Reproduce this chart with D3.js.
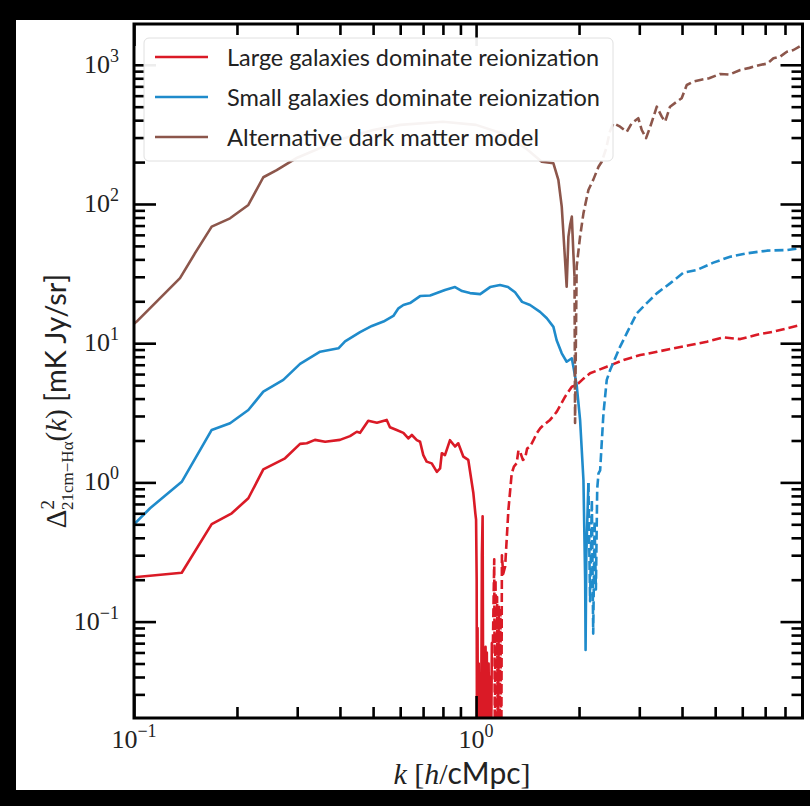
<!DOCTYPE html>
<html>
<head>
<meta charset="utf-8">
<script src="https://cdn.jsdelivr.net/npm/d3@7"></script>
<style>
  html, body { margin: 0; padding: 0; background: #000; }
  svg { display: block; }
</style>
</head>
<body>
<svg id="chart"></svg>
<script>
// datos: [k, valor]
const rojoSolido = [
  [0.1, 0.208], [0.1379, 0.2245], [0.1687, 0.502], [0.1931, 0.600], [0.2159, 0.769],
  [0.2388, 1.24], [0.2764, 1.49], [0.3058, 1.89], [0.320, 1.91], [0.338, 2.02],
  [0.362, 1.96], [0.400, 2.02], [0.428, 2.15], [0.448, 2.31], [0.458, 2.27],
  [0.484, 2.77], [0.513, 2.68], [0.548, 2.81], [0.560, 2.49], [0.586, 2.38],
  [0.613, 2.27], [0.634, 2.07], [0.649, 2.19], [0.671, 2.01], [0.686, 1.96],
  [0.701, 1.57], [0.717, 1.41], [0.742, 1.37], [0.768, 1.19], [0.785, 1.26],
  [0.794, 1.62], [0.811, 1.57], [0.839, 2.01], [0.868, 1.81], [0.887, 1.91],
  [0.918, 1.53], [0.949, 1.45], [0.982, 0.835], [0.995, 0.6], [1.0, 0.54],
  [1.004, 0.2], [1.006, 0.01], [1.010, 0.09], [1.013, 0.008], [1.018, 0.05],
  [1.022, 0.01], [1.028, 0.04], [1.033, 0.006], [1.04, 0.3], [1.045, 0.57],
  [1.05, 0.01], [1.055, 0.03], [1.06, 0.005], [1.066, 0.066], [1.07, 0.01],
  [1.075, 0.06], [1.08, 0.005], [1.088, 0.05], [1.095, 0.008], [1.10, 0.04],
  [1.105, 0.006], [1.112, 0.07], [1.12, 0.07]
];
const rojoGuion = [
  [1.12, 0.07], [1.13, 0.28], [1.135, 0.01], [1.14, 0.2], [1.145, 0.008],
  [1.152, 0.15], [1.158, 0.01], [1.165, 0.13], [1.17, 0.006], [1.178, 0.12],
  [1.185, 0.01], [1.19, 0.3], [1.2, 0.22], [1.216, 0.248], [1.243, 0.634],
  [1.271, 1.16], [1.29, 1.3], [1.314, 1.37], [1.33, 1.7], [1.345, 1.66], [1.37, 1.45],
  [1.391, 1.49], [1.41, 1.75], [1.438, 1.81], [1.47, 2.0], [1.505, 2.26], [1.54, 2.45],
  [1.574, 2.58], [1.645, 2.81], [1.722, 3.22], [1.821, 4.13],
  [1.905, 4.87], [1.968, 5.01], [2.05, 5.5], [2.154, 6.08], [2.41, 6.78],
  [2.70, 7.57], [3.02, 8.22], [3.38, 8.68], [3.78, 9.18], [4.23, 9.70],
  [4.73, 10.25], [5.29, 11.0], [5.92, 10.7], [6.62, 11.5], [7.40, 12.1],
  [8.75, 13.4], [9.0, 13.6]
];
const azulSolido = [
  [0.1, 0.5], [0.1114, 0.652], [0.1379, 1.01], [0.1687, 2.38], [0.1909, 2.66],
  [0.2159, 3.31], [0.2388, 4.49], [0.2732, 5.45], [0.3058, 7.10], [0.350, 8.69],
  [0.396, 9.19], [0.414, 10.3], [0.458, 12.0], [0.496, 13.3], [0.536, 14.3],
  [0.573, 15.7], [0.593, 17.8], [0.613, 18.8], [0.641, 19.4], [0.686, 21.8],
  [0.734, 22.0], [0.811, 24.1], [0.868, 25.3], [0.910, 23.7], [0.960, 22.9],
  [1.028, 22.5], [1.099, 25.3], [1.175, 26.2], [1.24, 25.3], [1.30, 23.2],
  [1.363, 19.8], [1.438, 18.8], [1.538, 16.8], [1.61, 15.1], [1.683, 13.1],
  [1.72, 10.5], [1.78, 8.46], [1.84, 7.36], [1.905, 7.79], [1.925, 6.77],
  [1.968, 5.01], [2.014, 2.81], [2.06, 1.04], [2.084, 0.199], [2.09, 0.0625],
  [2.10, 0.3], [2.13, 0.99]
];
const azulGuion = [
  [2.13, 0.99], [2.154, 0.14], [2.18, 0.75], [2.20, 0.082], [2.22, 0.53],
  [2.24, 0.17], [2.26, 0.9], [2.28, 1.16], [2.305, 1.22], [2.357, 3.13],
  [2.41, 5.45], [2.466, 6.42], [2.637, 9.45], [2.758, 11.8], [2.95, 16.4],
  [3.155, 19.4], [3.375, 22.8], [3.69, 26.9], [4.04, 32.1], [4.42, 33.6],
  [4.94, 37.9], [5.53, 41.8], [6.19, 44.2], [7.08, 46.2], [8.10, 46.7],
  [8.85, 48.1], [9.0, 48.5]
];
const marronSolido = [
  [0.1, 13.8], [0.1018, 14.3], [0.1363, 29.3], [0.1508, 44.3], [0.1687, 68.7],
  [0.1909, 78.9], [0.2159, 98.4], [0.2388, 155.6], [0.2613, 175], [0.3, 215],
  [0.4, 290], [0.5, 340], [0.6, 370], [0.8, 390], [1.0, 370], [1.2, 320],
  [1.4, 250], [1.556, 201], [1.683, 196], [1.74, 149], [1.78, 95.6],
  [1.80, 61.6], [1.82, 39.6], [1.84, 25.5], [1.862, 58.3], [1.883, 70.6],
  [1.905, 81.1], [1.925, 44.3], [1.94, 30]
];
const marronGuion = [
  [1.94, 30], [1.947, 2.67], [1.968, 35.5], [2.014, 58.3], [2.06, 85.7],
  [2.13, 126], [2.20, 149], [2.28, 185], [2.33, 201], [2.40, 250],
  [2.46, 330], [2.52, 380], [2.637, 359], [2.758, 330], [2.85, 380],
  [2.98, 413], [3.05, 340], [3.14, 297], [3.23, 359], [3.375, 500],
  [3.49, 424], [3.57, 390], [3.69, 500], [3.86, 543], [3.99, 575],
  [4.13, 716], [4.32, 757], [4.52, 778], [4.8, 800], [5.17, 859], [5.5, 850],
  [5.92, 918], [6.3, 950], [6.76, 997], [7.1, 1020], [7.40, 1113], [7.74, 1143],
  [8.10, 1241], [8.47, 1277], [8.96, 1387], [9.0, 1400]
];

const etiquetasLeyenda = [
  'Large galaxies dominate reionization',
  'Small galaxies dominate reionization',
  'Alternative dark matter model'
];
const coloresSerie = ['#da1a26', '#1f8bcb', '#8c564b'];

const ticksMayoresX = [0.1, 1];
const exponentesX = ['\u22121', '0'];
const ticksMenoresX = [0.2, 0.3, 0.4, 0.5, 0.6, 0.7, 0.8, 0.9, 2, 3, 4, 5, 6, 7, 8];
const ticksMayoresY = [0.1, 1, 10, 100, 1000];
const exponentesY = ['\u22121', '0', '1', '2', '3'];
const ticksMenoresY = [0.03, 0.04, 0.05, 0.06, 0.07, 0.08, 0.09,
  0.2, 0.3, 0.4, 0.5, 0.6, 0.7, 0.8, 0.9, 2, 3, 4, 5, 6, 7, 8, 9,
  20, 30, 40, 50, 60, 70, 80, 90, 200, 300, 400, 500, 600, 700, 800, 900];

// geometria
const ancho = 810, alto = 806;
const izq = 134, der = 802.5, sup = 24, inf = 718;

const svg = d3.select('#chart').attr('width', ancho).attr('height', alto);

svg.append('rect').attr('width', ancho).attr('height', alto).attr('fill', '#000');
svg.append('rect').attr('x', 16).attr('y', 20).attr('width', ancho - 16).attr('height', 770).attr('fill', '#fff');

const x = d3.scaleLog().domain([0.1, 9.0]).range([izq, der]);
const y = d3.scaleLog().domain([0.0203, 1963]).range([inf, sup]);

svg.append('clipPath').attr('id', 'recorte')
  .append('rect').attr('x', izq).attr('y', sup).attr('width', der - izq).attr('height', inf - sup);

const linea = d3.line()
  .x(d => x(d[0]))
  .y(d => y(Math.max(d[1], 1e-3)));

const trazos = svg.append('g').attr('clip-path', 'url(#recorte)');
const series = [
  [rojoSolido, rojoGuion],
  [azulSolido, azulGuion],
  [marronSolido, marronGuion]
];
series.forEach((s, i) => {
  trazos.append('path').datum(s[0]).attr('d', linea)
    .attr('fill', 'none').attr('stroke', coloresSerie[i]).attr('stroke-width', 2.6)
    .attr('stroke-linejoin', 'round');
  trazos.append('path').datum(s[1]).attr('d', linea)
    .attr('fill', 'none').attr('stroke', coloresSerie[i]).attr('stroke-width', 2.6)
    .attr('stroke-dasharray', '9,4').attr('stroke-linejoin', 'round');
});

// ejes con ticks hacia dentro
function ejeTicks(eje, valores, largo, transform) {
  const g = svg.append('g').attr('transform', transform)
    .call(eje.tickValues(valores).tickSize(-largo).tickFormat(''));
  g.select('.domain').remove();
  g.selectAll('line').attr('stroke', '#000').attr('stroke-width', 2.6);
}
ejeTicks(d3.axisBottom(x), ticksMayoresX, 22, `translate(0,${inf})`);
ejeTicks(d3.axisBottom(x), ticksMenoresX, 11, `translate(0,${inf})`);
ejeTicks(d3.axisTop(x), ticksMayoresX, 22, `translate(0,${sup})`);
ejeTicks(d3.axisTop(x), ticksMenoresX, 11, `translate(0,${sup})`);
ejeTicks(d3.axisLeft(y), ticksMayoresY, 22, `translate(${izq},0)`);
ejeTicks(d3.axisLeft(y), ticksMenoresY, 11, `translate(${izq},0)`);
ejeTicks(d3.axisRight(y), ticksMayoresY, 22, `translate(${der},0)`);
ejeTicks(d3.axisRight(y), ticksMenoresY, 11, `translate(${der},0)`);

svg.append('rect').attr('x', izq).attr('y', sup).attr('width', der - izq).attr('height', inf - sup)
  .attr('fill', 'none').attr('stroke', '#000').attr('stroke-width', 3);

// etiquetas de ticks
const serif = '"Liberation Serif", "DejaVu Serif", serif';
ticksMayoresY.forEach((v, i) => {
  const t = svg.append('text').attr('x', 119).attr('y', y(v) + 8)
    .attr('text-anchor', 'end').attr('font-family', serif).attr('font-size', 26).attr('fill', '#222');
  t.append('tspan').text('10');
  t.append('tspan').attr('dy', -11).attr('font-size', 18).text(exponentesY[i]);
});
ticksMayoresX.forEach((v, i) => {
  const t = svg.append('text').attr('x', x(v)).attr('y', 748)
    .attr('text-anchor', 'middle').attr('font-family', serif).attr('font-size', 26).attr('fill', '#222');
  t.append('tspan').text('10');
  t.append('tspan').attr('dy', -11).attr('font-size', 18).text(exponentesX[i]);
});

// titulo eje x
const sans = 'Lato, "DejaVu Sans", sans-serif';
const tx = svg.append('text').attr('x', 462).attr('y', 784).attr('text-anchor', 'middle')
  .attr('font-family', serif).attr('font-size', 30).attr('fill', '#222');
tx.append('tspan').attr('font-style', 'italic').text('k');
tx.append('tspan').text(' [');
tx.append('tspan').attr('font-style', 'italic').text('h');
tx.append('tspan').text('/');
tx.append('tspan').attr('font-family', sans).text('cMpc');
tx.append('tspan').text(']');

// titulo eje y
const ty = svg.append('text').attr('transform', 'translate(66,401) rotate(-90)')
  .attr('text-anchor', 'middle').attr('font-family', serif).attr('font-size', 29).attr('fill', '#222');
ty.append('tspan').text('\u0394');
ty.append('tspan').attr('dy', -12).attr('font-size', 19).text('2');
ty.append('tspan').attr('dx', -10).attr('dy', 19).attr('font-size', 17).text('21cm\u2212H\u03b1');
ty.append('tspan').attr('dy', -7).text('(');
ty.append('tspan').attr('font-style', 'italic').text('k');
ty.append('tspan').text(') ');
ty.append('tspan').attr('font-family', sans).text('[mK Jy/sr]');

// leyenda
const leyenda = svg.append('g').attr('id', 'legend');
leyenda.append('rect').attr('x', 144).attr('y', 38).attr('width', 469).attr('height', 123)
  .attr('rx', 5).attr('fill', '#fff').attr('fill-opacity', 0.93)
  .attr('stroke', '#e0e0e0').attr('stroke-width', 1);
const anchosTexto = [372, 373, 312];
etiquetasLeyenda.forEach((et, i) => {
  const yy = 57 + i * 40;
  leyenda.append('line').attr('x1', 155).attr('x2', 208).attr('y1', yy).attr('y2', yy)
    .attr('stroke', coloresSerie[i]).attr('stroke-width', 2.6);
  leyenda.append('text').attr('x', 227).attr('y', yy + 8.5)
    .attr('font-family', sans).attr('font-size', 24).attr('fill', '#222')
    .attr('textLength', anchosTexto[i]).attr('lengthAdjust', 'spacingAndGlyphs')
    .text(et);
});
</script>
</body>
</html>
